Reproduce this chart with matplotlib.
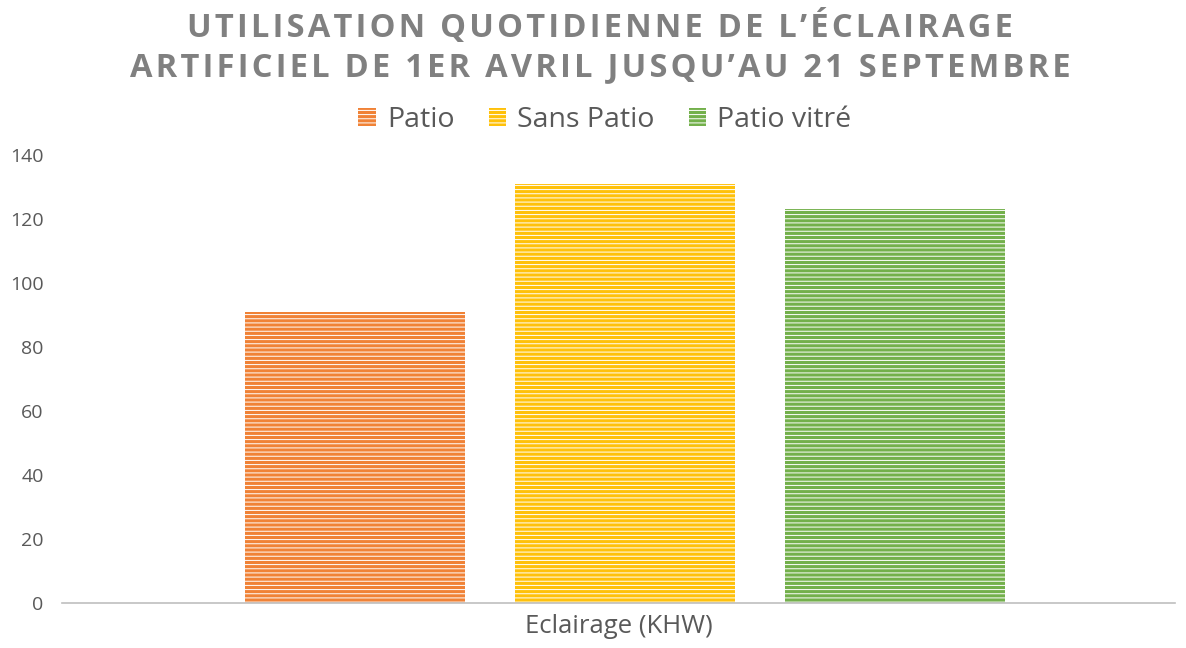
import numpy as np
import matplotlib.pyplot as plt

plt.rcParams['font.family'] = ['Open Sans', 'DejaVu Sans']
plt.rcParams['hatch.linewidth'] = 0.7

series = ['Patio', 'Sans Patio', 'Patio vitré']
values = [91, 131, 123]
colors = ['#F08236', '#FFC10A', '#73B04B']
category = 'Eclairage (KHW)'
title_lines = ['UTILISATION QUOTIDIENNE DE L’ÉCLAIRAGE',
               'ARTIFICIEL DE 1ER AVRIL JUSQU’AU 21 SEPTEMBRE']


def spaced(s, gap='\u200a'):
    # espacement des lettres du titre
    return gap.join(s)


fig = plt.figure(figsize=(11.86, 6.48), dpi=100)
ax = fig.add_axes([0.052, 0.0694, 0.939, 0.6914])

x = np.arange(len(series)) - 1
width = 0.815
for xi, v, c, name in zip(x, values, colors, series):
    ax.bar(xi, v, width, color=c, edgecolor='#ffffff', linewidth=0,
           hatch='----', label=name)

ax.set_xlim(-2.085, 2.037)
ax.set_ylim(0, 140)
ax.set_yticks(range(0, 141, 20))
ax.set_xticks([])
for s in ['top', 'right', 'left']:
    ax.spines[s].set_visible(False)
ax.spines['bottom'].set_color('#bfbfbf')
ax.spines['bottom'].set_linewidth(1.2)
ax.tick_params(axis='y', length=0, labelsize=14, labelcolor='#595959', pad=13)
ax.set_xlabel(category, fontsize=18.5, color='#595959', labelpad=8)

fig.text(0.506, 0.958, spaced(title_lines[0]),
         ha='center', va='center', fontsize=23.5, fontweight='bold', color='#808080')
fig.text(0.506, 0.896, spaced(title_lines[1]),
         ha='center', va='center', fontsize=23.5, fontweight='bold', color='#808080')

fig.legend(loc='center', bbox_to_anchor=(0.51, 0.815), ncol=3, frameon=False,
           fontsize=20.5, labelcolor='#595959', handlelength=0.6, handleheight=0.6,
           columnspacing=1.2, handletextpad=0.4)

fig.savefig('out.png', dpi=100)
